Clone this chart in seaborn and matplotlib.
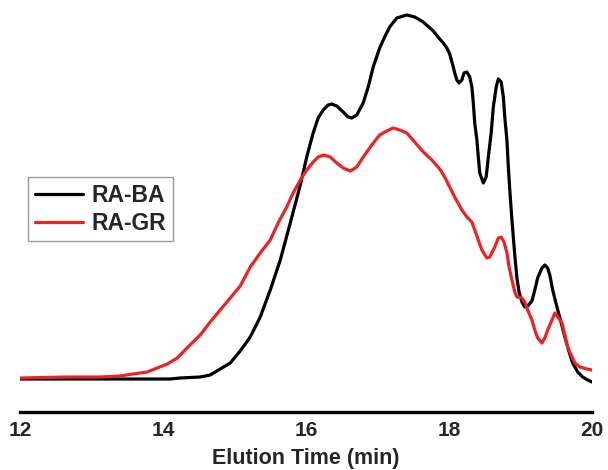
import matplotlib
matplotlib.use("Agg")
import matplotlib.pyplot as plt
import seaborn as sns
import pandas as pd

# elution time (min) and detector signal (arb. units)
ba_time = [12.00, 12.56, 13.12, 13.68, 14.10, 14.24, 14.52, 14.66, 14.80, 14.94,
           15.08, 15.22, 15.36, 15.50, 15.64, 15.78, 15.92, 16.01, 16.10, 16.17,
           16.24, 16.31, 16.36, 16.43, 16.52, 16.59, 16.64, 16.71, 16.80, 16.87,
           16.94, 17.03, 17.10, 17.17, 17.27, 17.41, 17.52, 17.64, 17.78, 17.87,
           17.92, 17.97, 18.01, 18.06, 18.08, 18.11, 18.14, 18.18, 18.21, 18.25,
           18.29, 18.32, 18.34, 18.36, 18.39, 18.41, 18.43, 18.48, 18.52, 18.55,
           18.59, 18.62, 18.66, 18.69, 18.73, 18.76, 18.78, 18.81, 18.83, 18.85,
           18.88, 18.92, 18.95, 18.98, 19.02, 19.06, 19.10, 19.16, 19.20, 19.24,
           19.30, 19.34, 19.38, 19.41, 19.45, 19.51, 19.57, 19.62, 19.68, 19.73,
           19.80, 19.87, 19.94, 20.00]
ba_signal = [1, 1, 1, 1, 1, 2, 3, 5, 11, 17,
             29, 43, 63, 90, 120, 157, 195, 223, 247, 262,
             270, 275, 276, 274, 268, 263, 262, 265, 277, 293,
             313, 332, 343, 353, 362, 365, 363, 358, 349, 341,
             337, 332, 326, 313, 307, 300, 297, 300, 307, 308,
             303, 293, 277, 257, 240, 223, 207, 197, 203, 223,
             247, 273, 293, 301, 298, 283, 263, 240, 213, 190,
             160, 125, 102, 88, 78, 73, 74, 79, 90, 102,
             112, 115, 112, 105, 90, 73, 57, 43, 28, 17,
             8, 3, 0, -2]

gr_time = [12.00, 12.66, 13.12, 13.40, 13.58, 13.78, 13.92, 14.06, 14.20, 14.35,
           14.52, 14.66, 14.80, 14.94, 15.08, 15.22, 15.36, 15.50, 15.61, 15.73,
           15.82, 15.92, 16.01, 16.10, 16.17, 16.25, 16.34, 16.43, 16.52, 16.62,
           16.71, 16.80, 16.92, 17.03, 17.13, 17.22, 17.31, 17.41, 17.52, 17.64,
           17.76, 17.87, 17.94, 18.01, 18.08, 18.18, 18.25, 18.32, 18.36, 18.41,
           18.46, 18.53, 18.57, 18.64, 18.69, 18.73, 18.77, 18.81, 18.84, 18.88,
           18.92, 18.95, 19.02, 19.06, 19.10, 19.16, 19.20, 19.24, 19.30, 19.34,
           19.38, 19.44, 19.48, 19.52, 19.58, 19.62, 19.66, 19.72, 19.76, 19.83,
           19.93, 20.00]
gr_signal = [2, 3, 3, 4, 6, 8, 12, 16, 22, 33,
             45, 58, 70, 82, 94, 113, 127, 140, 157, 173,
             187, 200, 210, 218, 223, 225, 223, 217, 212, 209,
             213, 223, 235, 245, 249, 252, 250, 247, 238, 228,
             220, 211, 203, 193, 183, 170, 163, 158, 150, 140,
             130, 122, 123, 133, 142, 143, 138, 127, 113, 100,
             88, 83, 82, 78, 70, 60, 50, 42, 37, 42,
             50, 60, 67, 63, 57, 45, 33, 23, 17, 13,
             11, 10]

df = pd.concat([
    pd.DataFrame({"time": ba_time, "signal": ba_signal, "sample": "RA-BA"}),
    pd.DataFrame({"time": gr_time, "signal": gr_signal, "sample": "RA-GR"}),
])

sns.set_style("white")
plt.rcParams["font.family"] = ["Liberation Sans", "DejaVu Sans"]
plt.rcParams["font.weight"] = "bold"

fig = plt.figure(figsize=(6.08, 4.70), dpi=100)
ax = fig.add_axes([20 / 608, 58 / 470, 572 / 608, 412 / 470])

sns.lineplot(data=df, x="time", y="signal", hue="sample",
             palette={"RA-BA": "black", "RA-GR": "#ee2222"},
             linewidth=2.3, ax=ax)

ax.set_xlim(12, 20)
ax.set_ylim(-32, 380)
ax.set_xticks([12, 14, 16, 18, 20])
ax.set_yticks([])
ax.tick_params(axis="x", length=0, pad=6.5, labelsize=15)
for lab in ax.get_xticklabels():
    lab.set_fontweight("bold")
ax.set_xlabel("Elution Time (min)", fontsize=15.5, fontweight="bold", labelpad=6)
ax.set_ylabel("")

for side in ["left", "top", "right"]:
    ax.spines[side].set_visible(False)
ax.spines["bottom"].set_linewidth(2.4)
ax.spines["bottom"].set_color("black")

leg = ax.legend(loc="upper left", bbox_to_anchor=(0.014, 0.570), borderaxespad=0,
                fontsize=16.5, handlelength=2.1, handletextpad=0.35,
                labelspacing=0.2, borderpad=0.3, fancybox=False,
                edgecolor="#999999", framealpha=1)
for t in leg.get_texts():
    t.set_fontweight("bold")
for l in leg.get_lines():
    l.set_linewidth(2.3)

fig.savefig("out.png", dpi=100)
